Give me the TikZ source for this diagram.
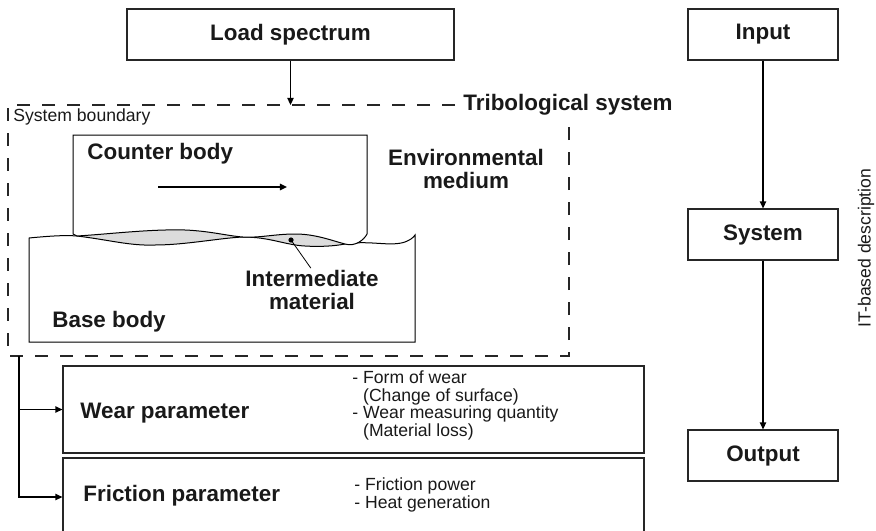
\documentclass[tikz,border=0pt]{standalone}
\usepackage{fontspec}
\setmainfont{Liberation Sans}
\usepackage{xcolor}
\usepackage{tikz}
\usetikzlibrary{arrows.meta, positioning}
\definecolor{lensgray}{HTML}{DCDCDC}
\definecolor{inkgray}{HTML}{262626}

\begin{document}
\begin{tikzpicture}[
    x=0.5pt, y=-0.5pt,
    >={Triangle[length=3.6pt, width=3.2pt]},
    box/.style={draw=inkgray, line width=0.55pt, inner sep=0pt},
    head/.style={font=\fontsize{11.2}{11.6}\selectfont\bfseries, inner sep=0pt,
                 align=center, text=black!90},
    note/.style={font=\fontsize{8.8}{8.9}\selectfont, inner sep=0pt,
                 align=left, text=black!90},
    flow/.style={->, line width=0.75pt},
    boundary/.style={draw=inkgray, line width=0.55pt, dash pattern=on 6.5pt off 6pt},
    body/.style={draw=black, line width=0.5pt, fill=white}
  ]
    \clip (0,0) rectangle (876,530);

    \node[box, minimum width=163.5pt, minimum height=25.5pt] (load) at (290.5,34.5) {};
    \node[head] at (load) {Load spectrum};

    \node[box, minimum width=75pt, minimum height=25.5pt] (input)  at (763,34.5) {};
    \node[box, minimum width=75pt, minimum height=25.5pt] (system) at (763,234.5) {};
    \node[box, minimum width=75pt, minimum height=25.5pt] (output) at (763,455.5) {};
    \node[head] at (input)  {Input};
    \node[head] at (system) {System};
    \node[head] at (output) {Output};
    \node[note, rotate=90] (itdesc) at (866,248) {IT-based description};

    % system boundary
    \node[head, anchor=west, inner xsep=4pt] (trib) at (455,105) {Tribological system};
    \coordinate (bndtl) at (8,105);
    \coordinate (bndbl) at (8,356);
    \coordinate (bndbr) at (569,356);
    \coordinate (bndtr) at (569,118);
    \draw[boundary] (trib.west) -- (bndtl) -- (bndbl) -- (bndbr) -- (bndtr);
    \node[note, anchor=west] (bndlbl) at (13,117) {System boundary};

    % intermediate material between the bodies
    \fill[lensgray] (77,236) .. controls (110,234) and (150,229) .. (185,230)
      .. controls (210,231) and (228,236) .. (243,237)
      .. controls (220,238) and (185,245) .. (155,245)
      .. controls (130,246) and (110,240) .. (77,236) -- cycle;
    \fill[lensgray] (243,237) .. controls (260,238) and (275,234) .. (295,234)
      .. controls (315,234) and (330,240) .. (345,244)
      .. controls (335,246) and (320,247) .. (305,246)
      .. controls (285,245) and (270,237) .. (243,237) -- cycle;

    \draw[body] (29,238) .. controls (50,236) and (65,235) .. (77,236)
      .. controls (110,240) and (130,246) .. (155,245)
      .. controls (185,245) and (220,238) .. (243,237)
      .. controls (270,237) and (285,245) .. (305,246)
      .. controls (320,247) and (335,246) .. (345,244)
      .. controls (370,240) and (390,247) .. (405,242)
      .. controls (410,240) and (413,238) .. (415,235)
      -- (415,342) -- (29,342) -- cycle;
    \draw[body] (77,236) -- (73,234) -- (73,135) -- (367,135) -- (367,234)
      .. controls (364,240) and (355,247) .. (345,244)
      .. controls (330,240) and (315,234) .. (295,234)
      .. controls (275,234) and (260,238) .. (243,237)
      .. controls (228,236) and (210,231) .. (185,230)
      .. controls (150,229) and (110,234) .. (77,236) -- cycle;

    \node[head, anchor=west] (counter) at (87,154) {Counter body};
    \node[head, anchor=west] (base) at (52,322) {Base body};
    \node[head] (envmed) at (466,169) {Environmental\\medium};
    \node[head] (intermed) at (312,290) {Intermediate\\material};

    \coordinate (slidestart) at (158,187);
    \coordinate (slideend) at (287,187);
    \draw[->, line width=0.9pt] (slidestart) -- (slideend);

    \coordinate (imdot) at (291,240);
    \fill (imdot) circle (1.3pt);
    \draw[line width=0.4pt, shorten >=1pt] (imdot) -- (intermed.north);

    % output quantities
    \node[box, minimum width=290.5pt, minimum height=43.5pt] (wear) at (353.5,409.5) {};
    \node[box, minimum width=290.5pt, minimum height=39pt] (friction) at (353.5,497) {};
    \node[head, anchor=west] (wearlbl) at (80,413) {Wear parameter};
    \node[head, anchor=west] (frictlbl) at (83,496) {Friction parameter};
    \node[note, anchor=west] (wearlist) at (352,405.5)
      {- Form of wear\\\phantom{- }(Change of surface)\\- Wear measuring quantity\\\phantom{- }(Material loss)};
    \node[note, anchor=west] (frictlist) at (354,495)
      {- Friction power\\- Heat generation};

    \coordinate (outtap) at (19,356);
    \draw[flow] (load) -- (load |- bndtl);
    \draw[flow] (outtap) |- (friction.west);
    \draw[flow] (outtap |- wear.west) -- (wear.west);
    \draw[flow] (input) -- (system);
    \draw[flow] (system) -- (output);
  \end{tikzpicture}
\end{document}
